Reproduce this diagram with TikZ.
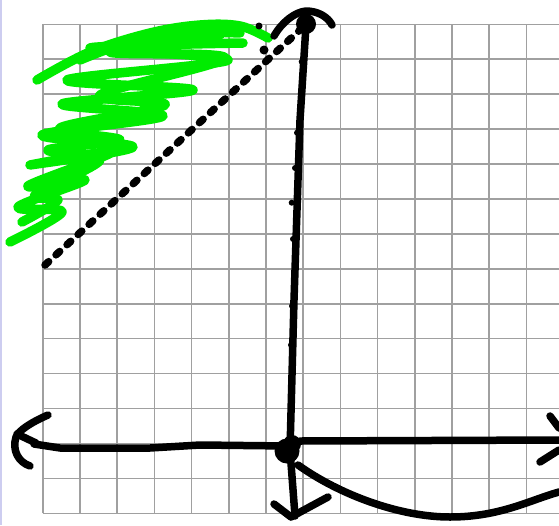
\documentclass[tikz,border=0pt]{standalone}
\definecolor{scrib}{RGB}{0,236,0}
\definecolor{gridc}{RGB}{160,160,160}
\definecolor{edgec}{RGB}{205,205,240}
\begin{document}
\begin{tikzpicture}[x=1pt,y=-1pt,
  gridline/.style={draw=gridc, line width=1.6pt},
  ink/.style={draw=black, line width=7.5pt, line cap=round, line join=round},
  dotline/.style={draw=black, line width=7.5pt, line cap=round, dash pattern=on 5pt off 10pt},
  scribble/.style={draw=scrib, line width=9.5pt, line cap=round, line join=round}]
\useasboundingbox (0,0) rectangle (559,525);
\fill[white] (0,0) rectangle (559,525);
\draw[edgec, line width=2pt] (1,0) -- (1,525);
% grid
\foreach \i in {0,...,13} \draw[gridline] ({42.7+37.2*\i},24.3) -- ({42.7+37.2*\i},513.3);
\foreach \j in {0,...,14} \draw[gridline] (42.7,{24.3+34.93*\j}) -- (559,{24.3+34.93*\j});
% green scribble
\draw[scribble] plot[smooth, tension=0.55] coordinates {
  (10,242) (62,212) (18,207) (85,180) (28,186) (112,152) (30,165)
  (133,147) (42,135) (163,116) (62,104) (193,90) (67,80) (228,60)
  (90,48) (243,43)};
\draw[scribble] plot[smooth, tension=0.55] coordinates {
  (22,222) (58,200) (35,195) (100,160) (48,150) (120,140) (60,128)
  (165,105) (100,95) (225,58) (110,52) (220,35)};
\draw[scribble] plot[smooth, tension=0.6] coordinates {
  (37,80) (90,52) (150,33) (200,25) (240,26) (268,38)};
\draw[scribble] plot[smooth, tension=0.6] coordinates {
  (80,60) (130,42) (190,33) (240,33)};
% dotted diagonal
\draw[dotline] (45,265) -- (300,30);
\fill (259,26) circle (3.5);
\fill (264,50) circle (4.5);
% vertical axis
\draw[ink] (306,25) -- (300,120) -- (294,300) -- (290,450) -- (295,516);
\fill (306,24) circle (10);
\draw[ink] (274,36) .. controls (282,22) and (295,12) .. (306,11)
  .. controls (318,11) and (328,17) .. (332,25);
\foreach \p in {(301.7,61.7),(297,132.7),(295,168),(291.7,202.7),(293,239),(292,306),(291,345),(291,377)}
  \fill \p circle (3);
% origin blob
\fill (287,451) circle (12.5);
\fill (292,444) circle (9);
% bottom arrowhead
\draw[ink] (274,504) -- (291,517) -- (328,497);
% horizontal axis
\draw[ink] (34,444) -- (60,448) -- (150,448) -- (200,445) -- (288,446);
\draw[ink] (300,441) -- (559,440);
\draw[ink] (48,415) .. controls (32,422) and (19,430) .. (16,437)
  .. controls (12,450) and (18,462) .. (30,466);
\draw[ink] (17,434) -- (36,443);
\draw[ink] (550,416) -- (559,428);
\draw[ink] (559,450) -- (540,462);
% curve
\draw[ink] (298,465) .. controls (340,495) and (400,517) .. (450,517)
  .. controls (500,517) and (530,500) .. (559,492);
\end{tikzpicture}
\end{document}
